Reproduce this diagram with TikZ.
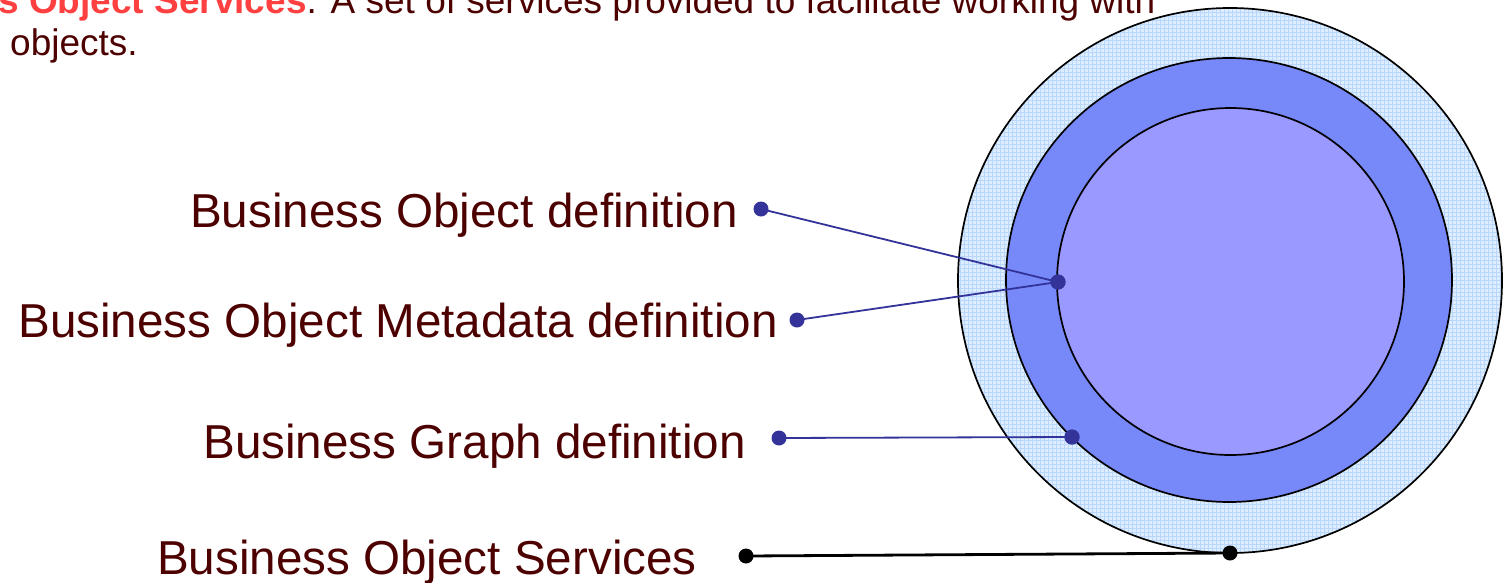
\documentclass[tikz,border=0pt]{standalone}
\usepackage{fontspec}
\setmainfont{Liberation Sans}
\definecolor{txt}{RGB}{77,0,0}
\definecolor{hl}{RGB}{255,64,64}
\definecolor{outerc}{RGB}{222,237,255}
\definecolor{gridc}{RGB}{185,215,250}
\definecolor{midc}{RGB}{119,136,248}
\definecolor{innc}{RGB}{153,153,255}
\definecolor{conn}{RGB}{51,51,153}
\begin{document}
\begin{tikzpicture}[x=1pt,y=-1pt,
  lbl/.style={anchor=base east, inner sep=0pt, text=txt, font=\fontsize{47.6}{56}\selectfont},
  ttl/.style={anchor=base west, inner sep=0pt, text=txt, font=\fontsize{37}{42}\selectfont},
  bdot/.style={circle, fill=conn, inner sep=0pt, minimum size=15pt},
  kdot/.style={circle, fill=black, inner sep=0pt, minimum size=15pt},
  bline/.style={conn, line width=1.8pt},
  kline/.style={black, line width=2.8pt},
  ring/.style={draw=black, line width=1.7pt}]
\useasboundingbox (0,0) rectangle (1505,582);
% outer ring with fine grid texture
\fill[outerc] (1230,280.5) ellipse [x radius=272, y radius=272.5];
\begin{scope}
  \clip (1230,280.5) ellipse [x radius=272, y radius=272.5];
  \draw[gridc, line width=0.3pt, step=4pt] (950,0) grid (1505,560);
\end{scope}
\draw[ring] (1230,280.5) ellipse [x radius=272, y radius=272.5];
\filldraw[ring, fill=midc] (1229,280) ellipse [x radius=223, y radius=222];
\filldraw[ring, fill=innc] (1230.5,281.5) ellipse [x radius=173.5, y radius=173.5];
% title
\node[ttl] (title1) at (-2,13) {\textcolor{hl}{\bfseries s Object Services}. A set of services provided to facilitate working with};
\node[ttl] (title2) at (10,55) {objects.};
% labels
\node[lbl] (bod) at (738,227.7) {Business Object definition};
\node[lbl] (bomd) at (778,337.7) {Business Object Metadata definition};
\node[lbl] (bgd) at (746,458) {Business Graph definition};
\node[lbl] (bos) at (697,574) {Business Object Services};
% dots
\node[bdot] (d1) at (761,209) {};
\node[bdot] (d2) at (797,320) {};
\node[bdot] (c1) at (1058,282) {};
\node[bdot] (d3) at (779,438) {};
\node[bdot] (c3) at (1072,437) {};
\node[kdot] (d4) at (746,556) {};
\node[kdot] (c4) at (1230,553) {};
% connectors
\draw[bline] (d1.center) -- (c1.center);
\draw[bline] (d2.center) -- (c1.center);
\draw[bline] (d3.center) -- (c3.center);
\draw[kline] (d4.center) -- (c4.center);
\node[bdot] at (c1) {};
\node[bdot] at (c3) {};
\end{tikzpicture}
\end{document}
